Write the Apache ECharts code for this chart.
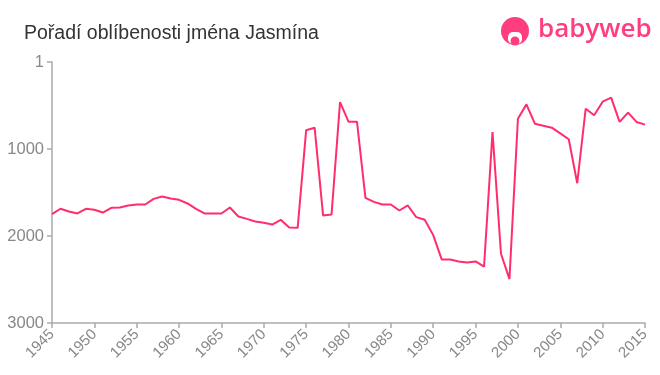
<!DOCTYPE html>
<html>
<head>
<meta charset="utf-8">
<script src="https://cdn.jsdelivr.net/npm/echarts@6/dist/echarts.min.js"></script>
<style>html,body{margin:0;padding:0;background:#fff}#c{width:660px;height:375px}</style>
</head>
<body>
<div id="c"></div>
<script>
var years = [];
for (var y = 1945; y <= 2015; y++) years.push(y);
var ranks = [
 1749,1687,1718,1741,1688,1699,1730,1676,1672,1649,
 1638,1638,1573,1546,1569,1584,1626,1688,1741,1741,
 1741,1672,1776,1803,1833,1848,1868,1814,1902,1906,
 785,755,1764,1753,462,686,686,1562,1608,1638,
 1638,1707,1649,1783,1814,1990,2269,2269,2292,2304,
 2292,2353,804,2204,2495,651,487,709,732,755,
 820,888,1393,537,613,456,410,689,582,689,
 720
];
var yTicks = [1, 1000, 2000, 3000];
var titleText = 'Pořadí oblíbenosti jména Jasmína';

var chart = echarts.init(document.getElementById('c'));
var pink = '#ff2d6b';
chart.setOption({
  animation: false,
  title: {
    text: titleText, left: 19, top: 19,
    textStyle: {fontFamily: 'Liberation Sans, Arial, sans-serif', fontSize: 19.5, fontWeight: 'normal', color: '#333'}
  },
  grid: {left: 52, right: 15, top: 62, bottom: 52},
  xAxis: {
    type: 'value', position: 'bottom', min: 1945, max: 2015, interval: 5,
    axisLine: {onZero: false, lineStyle: {color: '#aaa', width: 1.5}},
    axisTick: {show: true, length: 5, lineStyle: {color: '#aaa', width: 1.5}},
    axisLabel: {rotate: 45, color: '#888', fontSize: 15, fontFamily: 'Liberation Sans, Arial, sans-serif', margin: 9, formatter: function(v){return String(v);}},
    splitLine: {show: false}
  },
  yAxis: {
    type: 'value', inverse: true, min: 0, max: 3000, interval: 1000,
    axisLine: {show: true, onZero: false, lineStyle: {color: '#aaa', width: 1.5}},
    axisTick: {show: true, length: 5, lineStyle: {color: '#aaa', width: 1.5}},
    axisLabel: {color: '#888', fontSize: 16.5, fontFamily: 'Liberation Sans, Arial, sans-serif', margin: 8,
      formatter: function(v){ var i = Math.round(v/1000); return String(yTicks[i]); }},
    splitLine: {show: false}
  },
  series: [{
    type: 'line', symbol: 'none',
    data: years.map(function(y, i){ return [y, ranks[i]]; }),
    lineStyle: {color: pink, width: 2}
  }],
  graphic: [
    {type: 'circle', shape: {cx: 515, cy: 31, r: 14}, style: {fill: '#ff3d7f'}},
    {type: 'rect', shape: {x: 508, y: 32, width: 14, height: 12, r: 5}, style: {fill: '#fff'}},
    {type: 'circle', shape: {cx: 515, cy: 41, r: 4.5}, style: {fill: '#ff3d7f'}},
    {type: 'text', left: 538, top: 17, style: {text: 'babyweb', fill: '#ff3d7f', fontSize: 26, fontFamily: 'Open Sans, Liberation Sans, sans-serif', fontWeight: 600}}
  ]
});
</script>
</body>
</html>
